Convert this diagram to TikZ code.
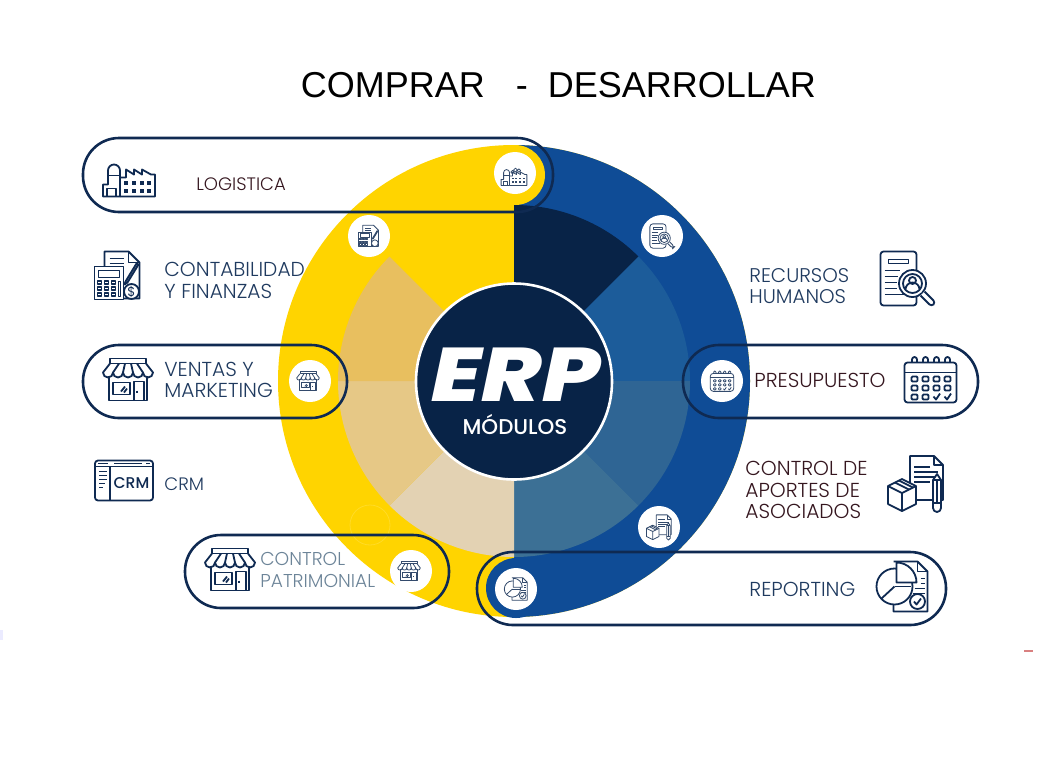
\documentclass[tikz,border=0pt]{standalone}
\usepackage{fontspec}
\setmainfont{Poppins}
\newfontfamily\titlefont{Liberation Sans}
\newfontfamily\labfont{Poppins Light}
\newfontfamily\modfont{Poppins Medium}
\newfontfamily\erpfont{Poppins ExtraBold Italic}
\definecolor{discyellow}{HTML}{FFD400}
\definecolor{discblue}{HTML}{0F4C96}
\definecolor{navy}{HTML}{082347}
\definecolor{pillnavy}{HTML}{0F2A52}
\definecolor{labblue}{HTML}{1F3A5F}
\definecolor{labmaroon}{HTML}{35161F}
\definecolor{labgrey}{HTML}{6C8498}
\definecolor{secA}{HTML}{1C5C9A}
\definecolor{secB}{HTML}{2F6594}
\definecolor{secC}{HTML}{3C7095}
\definecolor{secD}{HTML}{E3D2B3}
\definecolor{secE}{HTML}{E6C886}
\definecolor{secF}{HTML}{E8BF5F}
\tikzset{
  pillbox/.style={draw=pillnavy,line width=1.3pt,rounded corners=18pt},
  iconspot/.style={fill=white},
  lab/.style={anchor=west,align=left,inner sep=0pt,font=\fontsize{10.1}{10.6}\selectfont\labfont,text=labblue},
  bigicon/.style={color=pillnavy,line width=.9pt,line join=round},
  smallicon/.style={color=pillnavy!85,line width=.4pt,line join=round,scale=.45},
  pics/factoryicon/.style={code={
    \draw (-26,17) -- (-26,5) -- (-21,5) -- (-21,-9) arc (180:360:6) -- (-9,17) -- cycle;
    \draw (-21,-4) -- (-9,-4);
    \draw (-22,17) -- (-22,9) -- (-13,9) -- (-13,17);
    \draw (-9,-2) -- (-3,-2) -- (-3,-10) -- (5,-5) -- (5,-10) -- (13,-5) -- (13,-10) -- (22,-5) -- (26,-5) -- (26,17) -- (-9,17);
    \foreach \xa in {-3,5,13,20} {
      \fill (\xa-2,1) rectangle (\xa+2,5);
      \fill (\xa-2,9) rectangle (\xa+2,13);
    }
  }},
  pics/smokeicon/.style={code={
    \draw (-3,-10) circle (3.5);
    \draw (3,-14) circle (4);
    \draw (10,-13) circle (3.5);
  }},
  pics/calcicon/.style={code={
    \draw (-14,-9) -- (-14,-24) -- (10,-24) -- (21,-13) -- (21,23) -- (5,23);
    \draw (10,-24) -- (10,-13) -- (21,-13);
    \draw (-9,-17) -- (5,-17) (-9,-12) -- (5,-12);
    \draw[fill=white] (-24,-9) rectangle (5,24);
    \draw (-20,-5) rectangle (1,2);
    \foreach \xa in {-19,-12,-5} {
      \foreach \ya in {7,13,19} {
        \draw (\xa-2,\ya-1.5) rectangle (\xa+2,\ya+1.5);
      }
    }
    \draw (0,6) rectangle (2,21);
    \draw[fill=white] (7,6) -- (18,-12) -- (20,-11) -- (9,7) -- (6,9) -- cycle;
    \draw[fill=white] (13,16) circle (7.5);
    \node (dollar) at (13,16) {\fontsize{6.5}{6.5}\selectfont\$};
  }},
  pics/calcsmall/.style={code={
    \draw (-14,-9) -- (-14,-24) -- (10,-24) -- (21,-13) -- (21,23) -- (5,23);
    \draw (-9,-17) -- (5,-17) (-9,-12) -- (5,-12);
    \draw[fill=white] (-24,-9) rectangle (5,24);
    \draw (-20,-5) rectangle (1,2);
    \foreach \xa in {-19,-12,-5} {
      \foreach \ya in {7,13,19} {
        \draw (\xa-2,\ya-1.5) rectangle (\xa+2,\ya+1.5);
      }
    }
    \draw (7,6) -- (18,-12) -- (20,-11) -- (9,7) -- cycle;
    \draw[fill=white] (13,16) circle (7.5);
  }},
  pics/storeicon/.style={code={
    \draw (-19,-4) -- (-19,21) -- (19,21) -- (19,-4);
    \draw (-18,-21) rectangle (18,-16);
    \draw (-18,-16) -- (-25,-7) arc (180:0:5) arc (180:0:5) arc (180:0:5) arc (180:0:5) arc (180:0:5) -- (18,-16);
    \draw (-9,-16) -- (-15,-7) (-3,-16) -- (-5,-7) (3,-16) -- (5,-7) (9,-16) -- (15,-7);
    \draw (-15,3) rectangle (2,15);
    \draw (-7,12) -- (-3,7) (-4,13) -- (-1,9);
    \draw (6,21) -- (6,2) -- (16,2) -- (16,21);
    \draw (9,11) -- (9,13);
  }},
  pics/crmicon/.style={code={
    \draw[rounded corners=1.5pt] (-29,-20) rectangle (29,20);
    \draw (-29,-14) -- (29,-14) (-14,-14) -- (-14,20);
    \draw (-26,-17) -- (-16,-17) (-10,-17) -- (18,-17) (22,-17) -- (26,-17);
    \draw (-25,-9) -- (-17,-9) (-25,-5) -- (-17,-5) (-25,-1) -- (-17,-1) (-25,3) -- (-19,3) (-25,7) -- (-21,7);
    \node (crmword) at (7.5,3) {\fontsize{7.8}{7.8}\selectfont\modfont CRM};
  }},
  pics/searchicon/.style={code={
    \draw[rounded corners=1.5pt] (-27,-27) rectangle (9,27);
    \draw (-19,-19) rectangle (1,-15);
    \draw (-23,-8) -- (-8,-8) (-23,-2) -- (-10,-2) (-23,4) -- (-11,4) (-23,10) -- (-11,10) (-23,16) -- (-4,16);
    \draw[fill=white] (5,5) circle (13.5);
    \draw (5,5) circle (9.5);
    \draw (5,2) circle (3.5);
    \draw (-2,11) arc (180:360:7);
    \draw[fill=white,rounded corners=1.5pt] (13,17) -- (24,28) -- (28,24) -- (17,13);
  }},
  pics/calendaricon/.style={code={
    \draw[rounded corners=1.5pt] (-26,-17) rectangle (26,23);
    \draw (-26,-7) -- (26,-7);
    \foreach \xa in {-16,-5,6,17} {
      \draw (\xa-2.5,-17) -- (\xa-2.5,-20) arc (180:360:2.5) -- (\xa+2.5,-17);
    }
    \foreach \xa in {-16,-5,6,17} {
      \draw[rounded corners=.5pt] (\xa-3,-3) rectangle (\xa+3,2);
      \draw[rounded corners=.5pt] (\xa-3,6) rectangle (\xa+3,11);
    }
    \foreach \xa in {-16,-5} {
      \draw[rounded corners=.5pt] (\xa-3,15) rectangle (\xa+3,20);
    }
    \draw (3,17) -- (5.5,20) -- (9.5,14) (14,17) -- (16.5,20) -- (20.5,14);
  }},
  pics/boxicon/.style={code={
    \draw[fill=white] (-6,17) -- (-6,-27) -- (18,-27) -- (27,-18) -- (27,17) -- cycle;
    \draw (18,-27) -- (18,-18) -- (27,-18);
    \draw (-2,-16) -- (14,-16) (-2,-11) -- (22,-11) (-2,-6) -- (22,-6) (-2,-1) -- (14,-1);
    \draw[fill=white] (17,-3) -- (21,-9) -- (25,-3) -- (25,25) arc (0:180:4) -- cycle;
    \draw (17,-3) -- (25,-3) (17,20) -- (25,20);
    \draw (21,-3) -- (21,20);
    \draw[fill=white] (-28,3) -- (-14,-4) -- (0,3) -- (0,21) -- (-14,28) -- (-28,21) -- cycle;
    \draw (-28,3) -- (-14,10) -- (0,3) (-14,10) -- (-14,28);
    \draw (-21,-.5) -- (-7,6.5) (-17,-2.5) -- (-3,4.5);
  }},
  pics/reporticon/.style={code={
    \draw (-9,-25) -- (15,-25) -- (25,-15) -- (25,25) -- (-9,25) -- (-9,18);
    \draw (15,-25) -- (15,-15) -- (25,-15);
    \draw[fill=white] (-8,0) circle (18);
    \draw (-8,0) -- (-21,12);
    \draw (-8,0) -- (8,0);
    \draw[fill=white] (-6,-24) -- (-6,-4) -- (14,-4) arc (0:-90:20) -- cycle;
    \draw (18,-8) -- (22,-8) (18,-3) -- (22,-3) (12,2) -- (22,2) (10,7) -- (22,7);
    \draw[fill=white] (15,15) circle (7.5);
    \draw (11.5,15) -- (14,18) -- (18.5,12);
  }}
}
\begin{document}
\begin{tikzpicture}[x=.5pt,y=-.5pt]
  \useasboundingbox (0,0) rectangle (1055,773);
  \coordinate (hub) at (514,381);
  \fill[white] (0,0) rectangle (1055,773);
  \fill[discyellow] (hub) circle (236);
  \fill[discblue] (hub) ++(-90:236) arc (-90:90:236) -- cycle;
  \fill[navy] (hub) -- ++(-90:176) arc (-90:-45:176) -- cycle;
  \fill[secA] (hub) -- ++(-45:176) arc (-45:0:176) -- cycle;
  \fill[secB] (hub) -- ++(0:176) arc (0:45:176) -- cycle;
  \fill[secC] (hub) -- ++(45:176) arc (45:90:176) -- cycle;
  \fill[secD] (hub) -- ++(90:176) arc (90:135:176) -- cycle;
  \fill[secE] (hub) -- ++(135:176) arc (135:180:176) -- cycle;
  \fill[secF] (hub) -- ++(180:176) arc (180:225:176) -- cycle;
  \fill[discyellow] (515,175) circle (30);
  \fill[discblue] (516,588) circle (30);
  \draw[discyellow!85!white,line width=.4pt] (370,525) circle (20);
  \draw[fill=navy,draw=white,line width=1.3pt] (514,381.5) circle (98);

  \node[font=\fontsize{38}{38}\selectfont\erpfont,text=white,inner sep=0pt,xscale=1.2,text height=28.5pt,text depth=0pt] (erp) at (516,372.5) {ERP};
  \node[font=\fontsize{10.7}{10.7}\selectfont\modfont,text=white,inner sep=0pt,text height=7.5pt,text depth=0pt] (modulos) at (515,426.5) {MÓDULOS};
  \node[font=\fontsize{18}{18}\selectfont\titlefont,text=black,anchor=west,inner sep=0pt] (title) at (300.5,85) {COMPRAR\hspace*{15.5pt}-\hspace*{10pt}DESARROLLAR};

  \draw[pillbox] (83,138) rectangle (553,212);
  \draw[pillbox] (83,345) rectangle (347,418);
  \draw[pillbox] (683,345) rectangle (978,418);
  \draw[pillbox] (185,535) rectangle (449,608);
  \draw[pillbox] (477,552) rectangle (946,625);

  \node[lab,text=labmaroon,font=\fontsize{9}{10.6}\selectfont\labfont] (logistica) at (196,184) {LOGISTICA};
  \node[lab] (contabilidad) at (164,280.5) {CONTABILIDAD\\Y FINANZAS};
  \node[lab] (ventas) at (164,380) {VENTAS Y\\MARKETING};
  \node[lab,font=\fontsize{9}{10.6}\selectfont\labfont] (crm) at (164,484) {CRM};
  \node[lab,text=labgrey,font=\fontsize{9.3}{10.6}\selectfont\labfont] (patrimonial) at (260,570) {CONTROL\\PATRIMONIAL};
  \node[lab,font=\fontsize{9.9}{10.6}\selectfont\labfont] (recursos) at (749,286) {RECURSOS\\HUMANOS};
  \node[lab,text=labmaroon] (presupuesto) at (754,380.5) {PRESUPUESTO};
  \node[lab,text=labmaroon] (aportes) at (745,490) {CONTROL DE\\APORTES DE\\ASOCIADOS};
  \node[lab] (reporting) at (749,589.5) {REPORTING};

  \pic[bigicon] at (129,179.5) {factoryicon};
  \pic[bigicon] at (118.5,275.5) {calcicon};
  \pic[bigicon] at (128,379.5) {storeicon};
  \pic[bigicon] at (124,480.5) {crmicon};
  \pic[bigicon] at (230,569.5) {storeicon};
  \pic[bigicon] at (907.5,278.5) {searchicon};
  \pic[bigicon] at (930.5,379.5) {calendaricon};
  \pic[bigicon] at (916,483) {boxicon};
  \pic[bigicon] at (902.5,586.5) {reporticon};

  \fill[iconspot] (515,173) circle (21);
  \fill[iconspot] (369,236) circle (21);
  \fill[iconspot] (662,236) circle (21);
  \fill[iconspot] (310,381) circle (21);
  \fill[iconspot] (722,381) circle (21);
  \fill[iconspot] (659,527) circle (21);
  \fill[iconspot] (411,571) circle (21);
  \fill[iconspot] (516,589) circle (21);
  \pic[smallicon,scale=1.1] at (514,177) {factoryicon};
  \pic[smallicon,scale=1.1] at (514,177) {smokeicon};
  \pic[smallicon] at (369,236) {calcsmall};
  \pic[smallicon] at (662,236) {searchicon};
  \pic[smallicon] at (308,381) {storeicon};
  \pic[smallicon] at (722,381) {calendaricon};
  \pic[smallicon] at (659,527) {boxicon};
  \pic[smallicon] at (409,571) {storeicon};
  \pic[smallicon] at (516,589) {reporticon};

  \fill[red!70!black!50] (1024,650) rectangle (1033,652);
  \fill[blue!8] (0,630) rectangle (3,640);
\end{tikzpicture}
\end{document}
